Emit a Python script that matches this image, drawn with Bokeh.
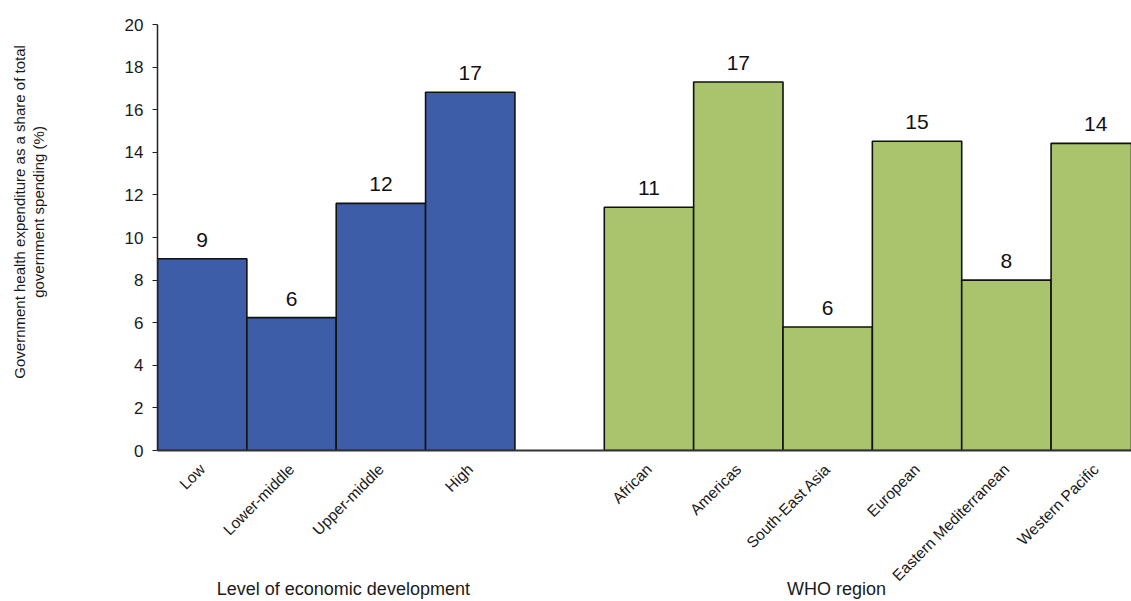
import math
from bokeh.plotting import figure
from bokeh.models import ColumnDataSource, Range1d, FixedTicker, LinearAxis
from bokeh.core.properties import value
from bokeh.embed import file_html
from bokeh.resources import INLINE

# ---- data ----
econ_levels = ["Low", "Lower-middle", "Upper-middle", "High"]
econ_values = [9.0, 6.24, 11.6, 16.82]
econ_labels = ["9", "6", "12", "17"]

who_regions = ["African", "Americas", "South-East Asia", "European",
               "Eastern Mediterranean", "Western Pacific"]
who_values = [11.42, 17.3, 5.8, 14.52, 8.0, 14.42]
who_labels = ["11", "17", "6", "15", "8", "14"]

y_ticks = [0, 2, 4, 6, 8, 10, 12, 14, 16, 18, 20]
group_titles = ["Level of economic development", "WHO region"]
y_title_lines = ["Government health expenditure as a share of total",
                 "government spending (%)"]

FONT = "Liberation Sans"
BLUE = "#3E5DA8"
GREEN = "#A9C46C"
TXT = "#1a1a1a"

econ_x = [i + 0.5 for i in range(len(econ_levels))]
who_x = [i + 5.5 for i in range(len(who_regions))]
group_x = [2.08, 7.6]
y_title_pos = 11.2

p = figure(width=1131, height=601, output_backend="svg", toolbar_location=None,
           x_range=Range1d(0, 10.9), y_range=Range1d(0, 20),
           min_border_left=157, min_border_right=0, min_border_top=24,
           min_border_bottom=150)
p.outline_line_color = None
p.background_fill_color = "white"
p.border_fill_color = "white"
p.xgrid.visible = False
p.ygrid.visible = False

src_e = ColumnDataSource(dict(x=econ_x, top=econ_values, lab=econ_labels))
src_w = ColumnDataSource(dict(x=who_x, top=who_values, lab=who_labels))

for src, col in ((src_e, BLUE), (src_w, GREEN)):
    p.vbar(x="x", top="top", bottom=0, width=1.0, source=src, fill_color=col,
           line_color="#111111", line_width=1.6)
    p.text(x="x", y="top", text="lab", source=src, text_align="center",
           text_baseline="alphabetic", y_offset=-19, text_font=value(FONT),
           text_font_size="21px", text_color="#111111")

# y axis
ya = p.yaxis[0]
ya.ticker = FixedTicker(ticks=y_ticks)
ya.minor_tick_line_color = None
ya.major_tick_in = 0
ya.major_tick_out = 5
ya.major_label_standoff = 9
ya.major_label_text_font = FONT
ya.major_label_text_font_size = "17px"
ya.major_label_text_color = TXT
ya.axis_line_color = "#222222"
ya.axis_line_width = 1.5
ya.major_tick_line_color = "#222222"

# y title, two lines, as extra label-only axes
for line, standoff in zip(y_title_lines[::-1], [74, -1]):
    ax = LinearAxis(ticker=FixedTicker(ticks=[y_title_pos]),
                    major_label_overrides={y_title_pos: line},
                    major_label_orientation="vertical",
                    axis_line_color=None, major_tick_line_color=None,
                    minor_tick_line_color=None, major_tick_in=0, major_tick_out=0,
                    major_label_standoff=standoff, major_label_text_font=FONT,
                    major_label_text_font_size="15px", major_label_text_color=TXT)
    p.add_layout(ax, "left")

# x axis
xa = p.xaxis[0]
xa.ticker = FixedTicker(ticks=econ_x + who_x)
xa.major_label_overrides = {x: n for x, n in zip(econ_x + who_x, econ_levels + who_regions)}
xa.major_label_orientation = math.pi / 4
xa.major_tick_line_color = None
xa.minor_tick_line_color = None
xa.major_tick_in = 0
xa.major_tick_out = 0
xa.major_label_standoff = 16
xa.major_label_text_font = FONT
xa.major_label_text_font_size = "15.5px"
xa.major_label_text_color = TXT
xa.axis_line_color = "#333333"
xa.axis_line_width = 2

# group titles as a label-only axis below
gx = LinearAxis(ticker=FixedTicker(ticks=group_x),
                major_label_overrides={x: t for x, t in zip(group_x, group_titles)},
                axis_line_color=None, major_tick_line_color=None,
                minor_tick_line_color=None, major_tick_in=0, major_tick_out=0,
                major_label_standoff=-15, major_label_text_font=FONT,
                major_label_text_font_size="18px", major_label_text_color=TXT)
p.add_layout(gx, "below")

open("out.html", "w").write(file_html(p, INLINE))
